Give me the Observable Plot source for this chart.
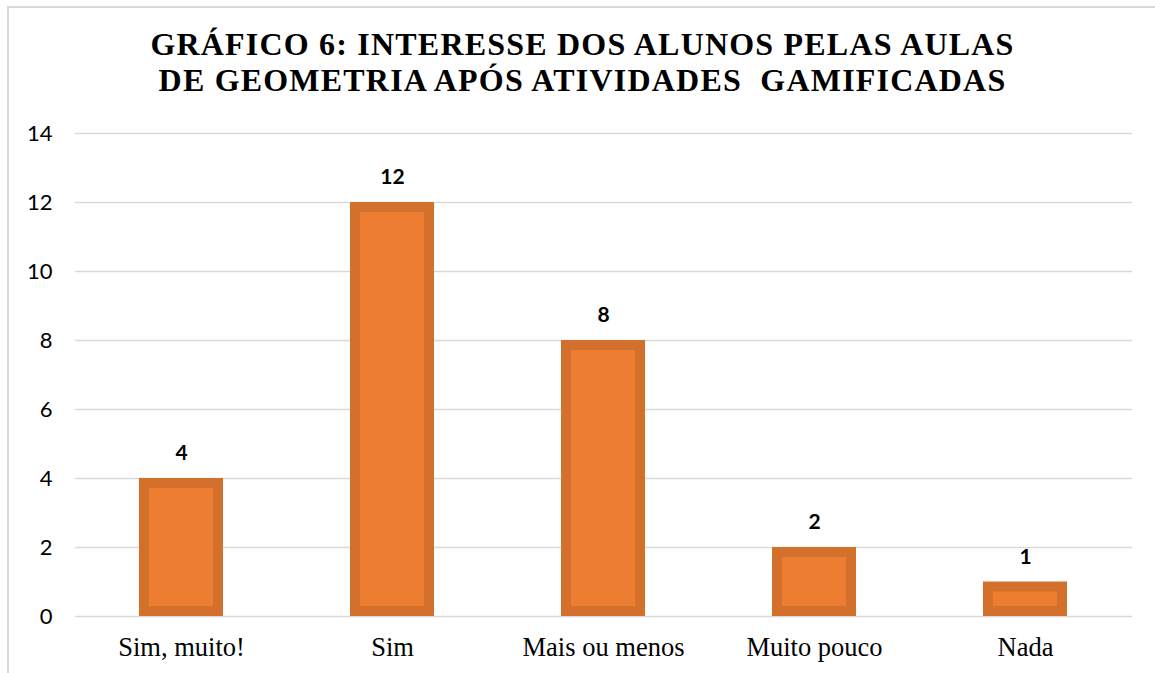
<!DOCTYPE html>
<html><head><meta charset="utf-8">
<script src="https://cdn.jsdelivr.net/npm/d3@7"></script>
<script src="https://cdn.jsdelivr.net/npm/@observablehq/plot@0.6"></script>
<style>
html,body{margin:0;padding:0;background:#fff;}
#wrap{position:relative;width:1155px;height:673px;overflow:hidden;}
#frame{position:absolute;left:7px;top:6px;width:1150px;height:680px;border:2px solid #d9d9d9;box-sizing:border-box;}
#title{position:absolute;left:0;top:26px;width:1165px;text-align:center;font-family:"Liberation Serif","Times New Roman",serif;font-weight:bold;font-size:32px;line-height:36px;letter-spacing:1.2px;color:#000;white-space:pre;}
#chart{position:absolute;left:0;top:0;}
</style></head>
<body><div id="wrap"><div id="frame"></div><div id="chart"></div><div id="title">GRÁFICO 6: INTERESSE DOS ALUNOS PELAS AULAS
DE GEOMETRIA APÓS ATIVIDADES  GAMIFICADAS</div></div>
<script>
const categories = ["Sim, muito!", "Sim", "Mais ou menos", "Muito pouco", "Nada"];
const values = [4, 12, 8, 2, 1];
const yTicks = [0, 2, 4, 6, 8, 10, 12, 14];
const data = categories.map((c, i) => ({cat: c, v: values[i]}));

const chart = Plot.plot({
  width: 1155, height: 673,
  marginTop: 133, marginBottom: 57, marginLeft: 75, marginRight: 23,
  style: {background: "transparent", overflow: "visible"},
  x: {domain: categories, paddingInner: 0.6, paddingOuter: 0.3, label: null},
  y: {domain: [0, 14], ticks: yTicks, label: null},
  marks: [
    Plot.gridY(yTicks, {stroke: "#d9d9d9", strokeOpacity: 1, strokeWidth: 1.5}),
    Plot.axisY({ticks: yTicks, tickSize: 0, tickPadding: 23, fontSize: 22, fontFamily: "Lato, 'Open Sans', sans-serif", fill: "#000", label: null}),
    Plot.axisX({tickSize: 0, tickPadding: 21, fontSize: 26.5, fontFamily: "'Liberation Serif', 'Times New Roman', serif", fill: "#000", label: null}),
    Plot.barY(data, {x: "cat", y: "v", fill: "#D3702B"}),
    Plot.barY(data, {x: "cat", y: "v", fill: "#ED7D31", inset: 10}),
    Plot.text(data, {x: "cat", y: "v", text: d => String(d.v), dy: -25, fontSize: 21, fontWeight: "bold", fontFamily: "Lato, 'Open Sans', sans-serif", fill: "#000"})
  ]
});
document.getElementById("chart").appendChild(chart);
</script></body></html>
